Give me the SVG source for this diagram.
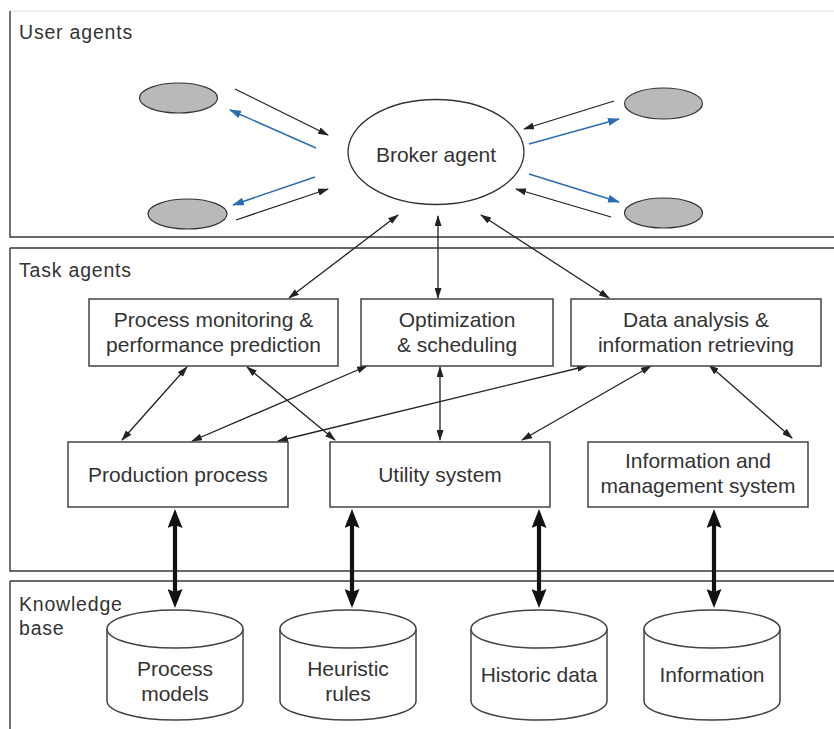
<svg xmlns="http://www.w3.org/2000/svg" width="834" height="729" viewBox="0 0 834 729">
<defs>
<style>
.pan{fill:none;stroke:#3a3a3a;stroke-width:1.4}
.box{fill:#fff;stroke:#444;stroke-width:1.5}
.ua{fill:#b9b9b9;stroke:#333;stroke-width:1.2}
.t{font-family:"Liberation Sans",Arial,sans-serif;font-size:21px;fill:#333;text-anchor:middle}
.lab{font-family:"Liberation Sans",Arial,sans-serif;font-size:19.5px;letter-spacing:0.8px;fill:#333}
.c{fill:none;stroke:#222;stroke-width:1.3}
.cb{fill:none;stroke:#2a6db5;stroke-width:1.5}
.ck{fill:none;stroke:#111;stroke-width:4.2}
</style>
<marker id="ah" viewBox="0 0 11 7" refX="10" refY="3.5" markerWidth="11" markerHeight="7" markerUnits="userSpaceOnUse" orient="auto-start-reverse"><path d="M0,0 L11,3.5 L0,7 z" fill="#222"/></marker>
<marker id="ahb" viewBox="0 0 12 8" refX="11" refY="4" markerWidth="12" markerHeight="8" markerUnits="userSpaceOnUse" orient="auto-start-reverse"><path d="M0,0 L12,4 L0,8 z" fill="#2a6db5"/></marker>
<marker id="ahk" viewBox="0 0 19 15" refX="7" refY="7.5" markerWidth="19" markerHeight="15" markerUnits="userSpaceOnUse" orient="auto-start-reverse"><path d="M0,0 L19,7.5 L0,15 L3,7.5 z" fill="#111"/></marker>
</defs>
<rect width="834" height="729" fill="#fff"/>
<g id="panels">
<path d="M10,11 H840" fill="none" stroke="#e2e2e2" stroke-width="1.2"/>
<path class="pan" d="M10,11 V237 H840"/>
<path class="pan" d="M10,248 H840 M10,248 V571 H840"/>
<path class="pan" d="M10,581 H840 M10,581 V729"/>
<text class="lab" x="19" y="39">User agents</text>
<text class="lab" x="19" y="277">Task agents</text>
<text class="lab" x="19" y="611">Knowledge</text>
<text class="lab" x="19" y="635">base</text>
</g>
<g id="connectors">
<line class="c" x1="235" y1="89" x2="328" y2="135" marker-end="url(#ah)"/>
<line class="cb" x1="316" y1="148" x2="230" y2="110" marker-end="url(#ahb)"/>
<line class="cb" x1="315" y1="177" x2="233" y2="205" marker-end="url(#ahb)"/>
<line class="c" x1="236" y1="220" x2="328" y2="189" marker-end="url(#ah)"/>
<line class="c" x1="614" y1="101" x2="524" y2="129" marker-end="url(#ah)"/>
<line class="cb" x1="529" y1="144" x2="619" y2="119" marker-end="url(#ahb)"/>
<line class="cb" x1="529" y1="174" x2="619" y2="202" marker-end="url(#ahb)"/>
<line class="c" x1="611" y1="217" x2="516" y2="189" marker-end="url(#ah)"/>
<line class="c" x1="398" y1="215" x2="289" y2="298" marker-start="url(#ah)" marker-end="url(#ah)"/>
<line class="c" x1="438" y1="216" x2="438" y2="298" marker-start="url(#ah)" marker-end="url(#ah)"/>
<line class="c" x1="481" y1="215" x2="609" y2="298" marker-start="url(#ah)" marker-end="url(#ah)"/>
<line class="c" x1="187" y1="367" x2="122" y2="440" marker-start="url(#ah)" marker-end="url(#ah)"/>
<line class="c" x1="247" y1="367" x2="335" y2="440" marker-start="url(#ah)" marker-end="url(#ah)"/>
<line class="c" x1="367" y1="366" x2="192" y2="441" marker-start="url(#ah)" marker-end="url(#ah)"/>
<line class="c" x1="587" y1="366" x2="278" y2="441" marker-start="url(#ah)" marker-end="url(#ah)"/>
<line class="c" x1="440" y1="367" x2="440" y2="440" marker-start="url(#ah)" marker-end="url(#ah)"/>
<line class="c" x1="651" y1="366" x2="522" y2="440" marker-start="url(#ah)" marker-end="url(#ah)"/>
<line class="c" x1="709" y1="365" x2="792" y2="438" marker-start="url(#ah)" marker-end="url(#ah)"/>
<line class="ck" x1="175" y1="521" x2="175" y2="596" marker-start="url(#ahk)" marker-end="url(#ahk)"/>
<line class="ck" x1="352" y1="521" x2="352" y2="596" marker-start="url(#ahk)" marker-end="url(#ahk)"/>
<line class="ck" x1="539" y1="521" x2="539" y2="596" marker-start="url(#ahk)" marker-end="url(#ahk)"/>
<line class="ck" x1="714" y1="521" x2="714" y2="596" marker-start="url(#ahk)" marker-end="url(#ahk)"/>
</g>
<g id="user1"><ellipse class="ua" cx="178.5" cy="98" rx="39" ry="15"/></g>
<g id="user2"><ellipse class="ua" cx="187.5" cy="214" rx="39.5" ry="15"/></g>
<g id="user3"><ellipse class="ua" cx="663.5" cy="103.5" rx="39" ry="15.5"/></g>
<g id="user4"><ellipse class="ua" cx="663.5" cy="213" rx="39" ry="15"/></g>
<g id="broker"><ellipse cx="436" cy="152" rx="88" ry="52.5" fill="#fff" stroke="#333" stroke-width="1.3"/><text class="t" x="436" y="162">Broker agent</text></g>
<g id="monitor"><rect class="box" x="89" y="299" width="249" height="67"/><text class="t" x="213.5" y="327">Process monitoring &amp;</text><text class="t" x="213.5" y="352">performance prediction</text></g>
<g id="optim"><rect class="box" x="361" y="299" width="192" height="67"/><text class="t" x="457" y="327">Optimization</text><text class="t" x="457" y="352">&amp; scheduling</text></g>
<g id="dataan"><rect class="box" x="571" y="299" width="250" height="67"/><text class="t" x="696" y="327">Data analysis &amp;</text><text class="t" x="696" y="352">information retrieving</text></g>
<g id="prod"><rect class="box" x="68" y="442" width="220" height="65"/><text class="t" x="178" y="482">Production process</text></g>
<g id="util"><rect class="box" x="330" y="442" width="220" height="65"/><text class="t" x="440" y="482">Utility system</text></g>
<g id="infomgmt"><rect class="box" x="588" y="442" width="220" height="65"/><text class="t" x="698" y="468">Information and</text><text class="t" x="698" y="493">management system</text></g>
<g id="kb1"><path class="box" d="M107,629 V701 A68,19 0 0 0 243,701 V629"/><ellipse class="box" cx="175" cy="629" rx="68" ry="19"/><text class="t" x="175" y="676">Process</text><text class="t" x="175" y="701">models</text></g>
<g id="kb2"><path class="box" d="M280,629 V701 A68,19 0 0 0 416,701 V629"/><ellipse class="box" cx="348" cy="629" rx="68" ry="19"/><text class="t" x="348" y="676">Heuristic</text><text class="t" x="348" y="701">rules</text></g>
<g id="kb3"><path class="box" d="M471,629 V701 A68,19 0 0 0 607,701 V629"/><ellipse class="box" cx="539" cy="629" rx="68" ry="19"/><text class="t" x="539" y="682">Historic data</text></g>
<g id="kb4"><path class="box" d="M644,629 V701 A68,19 0 0 0 780,701 V629"/><ellipse class="box" cx="712" cy="629" rx="68" ry="19"/><text class="t" x="712" y="682">Information</text></g>
</svg>
